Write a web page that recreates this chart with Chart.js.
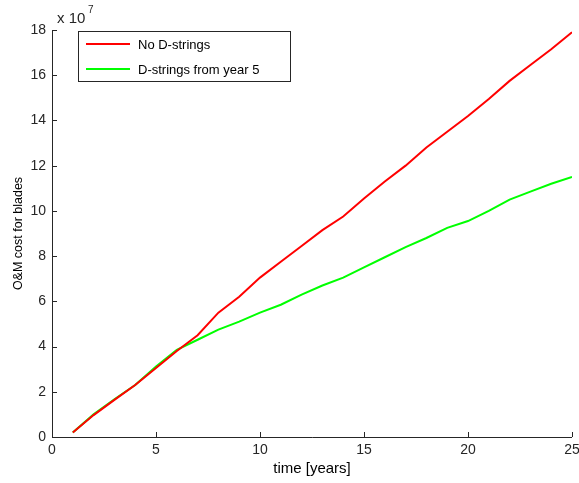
<!DOCTYPE html>
<html>
<head>
<meta charset="utf-8">
<script src="https://cdn.jsdelivr.net/npm/chart.js@4.4.0/dist/chart.umd.min.js"></script>
<style>
  html, body { margin: 0; padding: 0; background: #fff; }
  #wrap { width: 579px; height: 483px; }
</style>
</head>
<body>
<div id="wrap"><canvas id="omChart" width="579" height="483"></canvas></div>
<script>
// years on the x axis
const years = [1, 2, 3, 4, 5, 6, 7, 8, 9, 10, 11, 12, 13, 14, 15, 16, 17, 18, 19, 20, 21, 22, 23, 24, 25];

// O&M cost, in units of 10^7
const noDStrings = [0.2, 0.97, 1.64, 2.3, 3.05, 3.8, 4.5, 5.5, 6.2, 7.05, 7.75, 8.45, 9.15, 9.75, 10.55, 11.3, 12.0, 12.8, 13.5, 14.2, 14.95, 15.75, 16.45, 17.15, 17.9];
const dStringsFrom5 = [0.2, 1.0, 1.67, 2.3, 3.12, 3.85, 4.3, 4.75, 5.1, 5.5, 5.85, 6.3, 6.7, 7.05, 7.5, 7.95, 8.4, 8.8, 9.25, 9.55, 10.0, 10.5, 10.85, 11.2, 11.5];

const xTicks = [0, 5, 10, 15, 20, 25];
const yTicks = [0, 2, 4, 6, 8, 10, 12, 14, 16, 18];

const FONT = 'Liberation Sans, Arial, sans-serif';
const INK = '#262626';

// MATLAB style: ticks point into the plot, legend box, x 10^7 exponent
const matlabExtras = {
    id: 'matlabExtras',
    afterDraw(chart) {
        const c = chart.ctx;
        const xs = chart.scales.x;
        const ys = chart.scales.y;
        const area = chart.chartArea;
        c.save();
        c.strokeStyle = INK;
        c.lineWidth = 1;
        // axes lines
        c.beginPath();
        c.moveTo(area.left + 0.5, area.top);
        c.lineTo(area.left + 0.5, area.bottom + 0.5);
        c.lineTo(area.right, area.bottom + 0.5);
        c.stroke();
        // inward ticks
        c.beginPath();
        xTicks.forEach(v => {
            const px = Math.round(xs.getPixelForValue(v)) + 0.5;
            c.moveTo(px, area.bottom);
            c.lineTo(px, area.bottom - 5);
        });
        yTicks.forEach(v => {
            const py = Math.round(ys.getPixelForValue(v)) + 0.5;
            c.moveTo(area.left, py);
            c.lineTo(area.left + 5, py);
        });
        c.stroke();

        // exponent label
        c.fillStyle = INK;
        c.textBaseline = 'alphabetic';
        c.textAlign = 'left';
        c.font = '15px ' + FONT;
        c.fillText('x 10', 57, 23);
        c.font = '10px ' + FONT;
        c.fillText('7', 88, 13);

        // legend
        const lx = 78, ly = 31, lw = 212, lh = 50;
        c.fillStyle = '#fff';
        c.fillRect(lx, ly, lw, lh);
        c.strokeStyle = INK;
        c.strokeRect(lx + 0.5, ly + 0.5, lw, lh);
        chart.data.datasets.forEach((ds, i) => {
            const yy = ly + 13 + i * 25;
            c.strokeStyle = ds.borderColor;
            c.lineWidth = 2;
            c.beginPath();
            c.moveTo(86, yy);
            c.lineTo(130, yy);
            c.stroke();
            c.fillStyle = '#000';
            c.font = '13px ' + FONT;
            c.textBaseline = 'middle';
            c.fillText(ds.label, 138, yy + 1);
        });
        c.restore();
    }
};

const ctx = document.getElementById('omChart').getContext('2d');
const omChart = new Chart(ctx, {
    type: 'line',
    data: {
        datasets: [{
            label: 'No D-strings',
            data: years.map((y, i) => ({ x: y, y: noDStrings[i] })),
            borderColor: '#ff0000',
            borderWidth: 2,
            pointRadius: 0,
            tension: 0
        }, {
            label: 'D-strings from year 5',
            data: years.map((y, i) => ({ x: y, y: dStringsFrom5[i] })),
            borderColor: '#00ff00',
            borderWidth: 2,
            pointRadius: 0,
            tension: 0
        }]
    },
    options: {
        responsive: false,
        animation: false,
        layout: { padding: { top: 30, right: 7, left: 0, bottom: 0 } },
        plugins: {
            legend: { display: false },
            tooltip: { enabled: false }
        },
        scales: {
            x: {
                type: 'linear',
                min: 0,
                max: 25,
                afterBuildTicks: s => { s.ticks = xTicks.map(v => ({ value: v })); },
                afterFit: s => { s.height = 46; s.paddingRight = 0; s.paddingLeft = 0; },
                grid: { display: false, drawTicks: false },
                border: { display: false },
                ticks: { color: INK, font: { family: FONT, size: 14 }, padding: 5, maxRotation: 0 },
                title: { display: true, text: 'time [years]', color: '#000', font: { family: FONT, size: 15 }, padding: { top: 2, bottom: 5 } }
            },
            y: {
                min: 0,
                max: 18,
                afterBuildTicks: s => { s.ticks = yTicks.map(v => ({ value: v })); },
                afterFit: s => { s.width = 52; s.paddingTop = 0; s.paddingBottom = 0; },
                grid: { display: false, drawTicks: false },
                border: { display: false },
                ticks: { color: INK, font: { family: FONT, size: 14 }, padding: 6 },
                title: { display: true, text: 'O&M cost for blades', color: '#000', font: { family: FONT, size: 12.5 }, padding: { top: 11, bottom: 0 } }
            }
        }
    },
    plugins: [matlabExtras]
});
</script>
</body>
</html>
